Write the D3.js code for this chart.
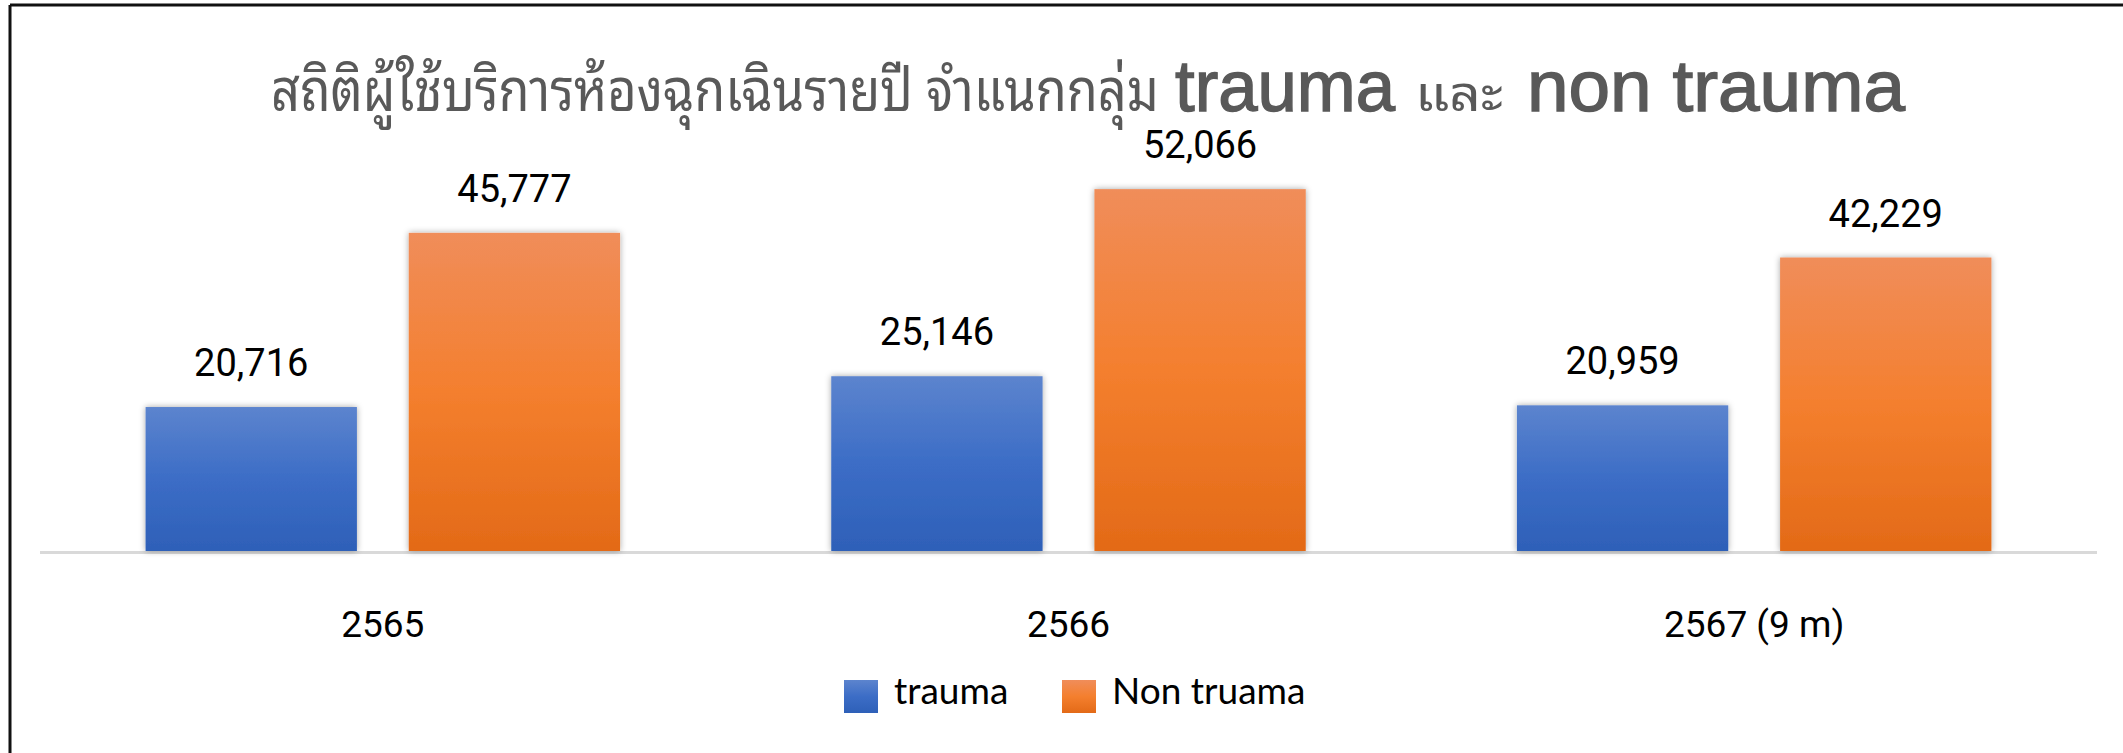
<!DOCTYPE html>
<html>
<head>
<meta charset="utf-8">
<script src="https://cdn.jsdelivr.net/npm/d3@7/dist/d3.min.js"></script>
<style>
  html, body { margin: 0; padding: 0; background: #fff; }
  svg { display: block; }
</style>
</head>
<body>
<svg id="chart" width="2123" height="753"></svg>
<script>
// ---- data ----
const categories = ["2565", "2566", "2567 (9 m)"];
const seriesNames = ["trauma", "Non truama"];
const traumaValues = [20716, 25146, 20959];
const nonTraumaValues = [45777, 52066, 42229];
const titleThai = "สถิติผู้ใช้บริการห้องฉุกเฉินรายปี จำแนกกลุ่ม";
const titleWord1 = "trauma";
const titleAnd = "และ";
const titleWord2 = "non trauma";

const W = 2123, H = 753;
const svg = d3.select("#chart");
const defs = svg.append("defs");

const seriesColors = [
  ["#5C84CE", "#3C6DC6", "#2E60B8"],
  ["#F08D5A", "#F47F2E", "#E36A17"]
];
seriesColors.forEach((c, i) => {
  const g = defs.append("linearGradient").attr("id", "grad" + i)
    .attr("x1", 0).attr("y1", 0).attr("x2", 0).attr("y2", 1);
  g.append("stop").attr("offset", "0%").attr("stop-color", c[0]);
  g.append("stop").attr("offset", "50%").attr("stop-color", c[1]);
  g.append("stop").attr("offset", "100%").attr("stop-color", c[2]);
});
const f = defs.append("filter").attr("id", "shadow")
  .attr("x", "-10%").attr("y", "-10%").attr("width", "120%").attr("height", "120%");
f.append("feDropShadow").attr("dx", 0).attr("dy", 0).attr("stdDeviation", 3)
  .attr("flood-color", "#000").attr("flood-opacity", 0.35);

// border (cropped frame)
svg.append("line").attr("x1", 10).attr("y1", 5).attr("x2", W).attr("y2", 5)
  .attr("stroke", "#111").attr("stroke-width", 3);
svg.append("line").attr("x1", 10).attr("y1", 5).attr("x2", 10).attr("y2", H)
  .attr("stroke", "#111").attr("stroke-width", 3);

// scales
const x0 = d3.scaleBand().domain(categories).range([40, 2097])
  .paddingInner(0.308).paddingOuter(0.154);
const x1 = d3.scaleBand().domain(seriesNames).range([0, x0.bandwidth()])
  .paddingInner(0.197).paddingOuter(0);
const y = d3.scaleLinear().domain([0, 60000]).range([551, 134]);

const rows = categories.map((c, i) => ({
  cat: c,
  vals: [
    { s: seriesNames[0], v: traumaValues[i], k: 0 },
    { s: seriesNames[1], v: nonTraumaValues[i], k: 1 }
  ]
}));

// baseline
svg.append("line").attr("x1", 40).attr("x2", 2097)
  .attr("y1", y(0) + 1.5).attr("y2", y(0) + 1.5)
  .attr("stroke", "#D9D9D9").attr("stroke-width", 3);

const groups = svg.append("g").selectAll("g").data(rows).join("g")
  .attr("transform", d => `translate(${x0(d.cat)},0)`);

groups.selectAll("rect").data(d => d.vals).join("rect")
  .attr("x", d => x1(d.s))
  .attr("y", d => y(d.v))
  .attr("width", x1.bandwidth())
  .attr("height", d => y(0) - y(d.v))
  .attr("fill", d => `url(#grad${d.k})`)
  .attr("filter", "url(#shadow)");

groups.selectAll("text.val").data(d => d.vals).join("text")
  .attr("class", "val")
  .attr("x", d => x1(d.s) + x1.bandwidth() / 2)
  .attr("y", d => y(d.v) - 31)
  .attr("text-anchor", "middle")
  .attr("font-family", "Roboto, 'Liberation Sans', sans-serif")
  .attr("font-size", 38)
  .attr("fill", "#000")
  .text(d => d3.format(",")(d.v));

// category axis labels
const xAxis = d3.axisBottom(x0).tickSize(0).tickPadding(0);
const ax = svg.append("g").attr("transform", "translate(0,600)").call(xAxis);
ax.select(".domain").remove();
ax.selectAll("text")
  .attr("font-family", "Roboto, 'Liberation Sans', sans-serif")
  .attr("font-size", 37)
  .attr("fill", "#000")
  .attr("dy", null)
  .attr("y", 37);

// legend
const legendX = [844, 1062];
const lg = svg.append("g").selectAll("g").data(seriesNames).join("g")
  .attr("transform", (d, i) => `translate(${legendX[i]},680)`);
lg.append("rect").attr("width", 34).attr("height", 33)
  .attr("fill", (d, i) => `url(#grad${i})`);
lg.append("text").attr("x", 50).attr("y", 24)
  .attr("font-family", "Lato, 'Noto Sans', sans-serif")
  .attr("font-size", 37).attr("fill", "#000")
  .text(d => d);

// title (parts with mixed fonts, each fitted horizontally to its span)
const thaiFont = "'Noto Sans Thai Looped', 'Noto Sans Thai', 'Noto Sans', sans-serif";
const latinFont = "'Liberation Sans', Arial, sans-serif";
const titleG = svg.append("g").attr("fill", "#595959");
const tBase = 111;
function titlePart(text, x, width, family, size, bold) {
  const g = titleG.append("g");
  const el = g.append("text").attr("x", 0).attr("y", 0)
    .attr("font-family", family).attr("font-size", size).text(text);
  if (bold) el.attr("stroke", "#595959").attr("stroke-width", 1.4);
  const natural = el.node().getComputedTextLength();
  const sx = width / natural;
  g.attr("transform", `translate(${x},${tBase}) scale(${sx},1)`);
}
titlePart(titleThai, 271, 888, thaiFont, 60, false);
titlePart(titleWord1, 1175, 220, latinFont, 72, true);
titlePart(titleAnd, 1415, 88, thaiFont, 50, false);
titlePart(titleWord2, 1527, 378, latinFont, 73, true);
</script>
</body>
</html>
